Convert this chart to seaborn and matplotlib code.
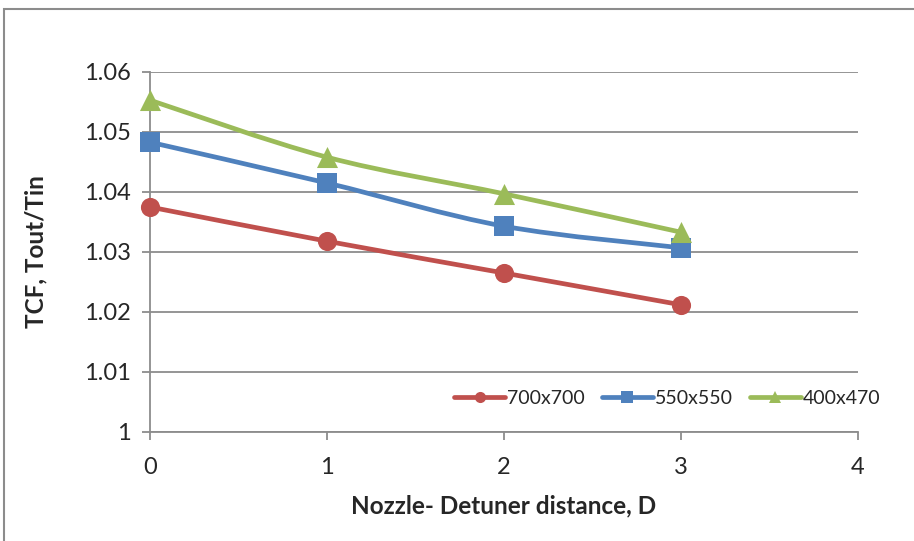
import matplotlib
matplotlib.use("Agg")
import matplotlib.pyplot as plt
import seaborn as sns
import pandas as pd
import numpy as np
from matplotlib.patches import Rectangle, PathPatch
from matplotlib.path import Path
from matplotlib.lines import Line2D

# Nozzle-detuner distance and temperature correction factor per detuner size
distance = [0, 1, 2, 3]
tcf_700x700 = [1.0375, 1.0318, 1.0265, 1.0212]
tcf_550x550 = [1.0483, 1.0415, 1.0343, 1.0307]
tcf_400x470 = [1.0553, 1.0458, 1.0397, 1.0333]
series_names = ["700x700", "550x550", "400x470"]
x_ticks = [0, 1, 2, 3, 4]
y_ticks = [1.00, 1.01, 1.02, 1.03, 1.04, 1.05, 1.06]
y_tick_labels = ["1", "1.01", "1.02", "1.03", "1.04", "1.05", "1.06"]

df = pd.DataFrame({
    "D": distance * 3,
    "TCF": tcf_700x700 + tcf_550x550 + tcf_400x470,
    "size": [series_names[0]] * 4 + [series_names[1]] * 4 + [series_names[2]] * 4,
})

sns.set_theme(style="white")
plt.rcParams["font.family"] = ["Lato", "DejaVu Sans"]

palette = {"700x700": "#C0504D", "550x550": "#4F81BD", "400x470": "#9BBB59"}
markers = {"700x700": "o", "550x550": "s", "400x470": "^"}
LW = 3.4


def smooth_path(xs, ys):
    """Cubic Bezier path through the points (Catmull-Rom style smoothing)."""
    pts = np.column_stack([xs, ys]).astype(float)
    ext = np.vstack([pts[0], pts, pts[-1]])
    verts = [tuple(pts[0])]
    codes = [Path.MOVETO]
    for i in range(len(pts) - 1):
        p0, p1, p2, p3 = ext[i], ext[i + 1], ext[i + 2], ext[i + 3]
        c1 = p1 + (p2 - p0) / 6.0
        c2 = p2 - (p3 - p1) / 6.0
        verts += [tuple(c1), tuple(c2), tuple(p2)]
        codes += [Path.CURVE4] * 3
    return Path(verts, codes)


fig = plt.figure(figsize=(9.14, 5.41), dpi=100)
ax = fig.add_axes([150 / 914, 1 - 432 / 541, 708 / 914, 360 / 541])

# chart frame
fig.patches.append(Rectangle((4 / 914, -0.01), 1.0, 1 - 9 / 541 + 0.01,
                             transform=fig.transFigure, fill=False,
                             edgecolor="#8C8C8C", linewidth=1.5))

handles = []
for name in series_names:
    sub = df[df["size"] == name]
    ax.add_patch(PathPatch(smooth_path(sub["D"].values, sub["TCF"].values),
                           facecolor="none", edgecolor=palette[name],
                           linewidth=LW, capstyle="round", joinstyle="round",
                           zorder=3, clip_on=False))
    sns.scatterplot(data=sub, x="D", y="TCF", ax=ax, color=palette[name],
                    marker=markers[name], s=190 if markers[name] != "^" else 230,
                    linewidth=0, zorder=4, clip_on=False, legend=False)
    handles.append(Line2D([], [], color=palette[name], linewidth=LW,
                          marker=markers[name], markersize=8, markeredgewidth=0,
                          solid_capstyle="round"))

ax.set_xlim(0, 4)
ax.set_ylim(1.0, 1.06)
ax.set_xticks(x_ticks)
ax.set_xticklabels([str(v) for v in x_ticks])
ax.set_yticks(y_ticks)
ax.set_yticklabels(y_tick_labels)
ax.yaxis.grid(True, color="#8C8C8C", linewidth=1.3)
ax.xaxis.grid(False)
ax.set_axisbelow(True)
for s in ["top", "right"]:
    ax.spines[s].set_visible(False)
for s in ["left", "bottom"]:
    ax.spines[s].set_color("#8C8C8C")
    ax.spines[s].set_linewidth(1.3)
ax.tick_params(axis="both", which="major", length=6, width=1.3,
               color="#8C8C8C", labelsize=17, direction="out")
ax.tick_params(axis="x", pad=12)
ax.tick_params(axis="y", pad=8)
ax.tick_params(left=True, bottom=True)

ax.set_xlabel("Nozzle- Detuner distance, D", fontsize=17.5, fontweight="bold", labelpad=12)
ax.set_ylabel("TCF, Tout/Tin", fontsize=17.5, fontweight="bold", labelpad=26)

ax.legend(handles, series_names, loc="center right", bbox_to_anchor=(1.045, 0.094),
          ncol=3, frameon=False, fontsize=14, handlelength=2.6,
          handletextpad=0.1, columnspacing=0.9, borderpad=0)

fig.savefig("out.png", dpi=100)
